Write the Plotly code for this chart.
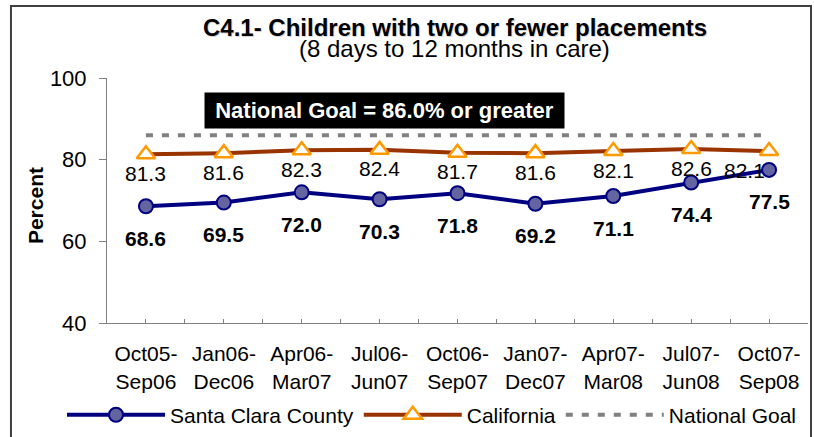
import plotly.graph_objects as go

periods = ["Oct05-<br>Sep06", "Jan06-<br>Dec06", "Apr06-<br>Mar07", "Jul06-<br>Jun07",
           "Oct06-<br>Sep07", "Jan07-<br>Dec07", "Apr07-<br>Mar08", "Jul07-<br>Jun08",
           "Oct07-<br>Sep08"]
santa_clara = [68.6, 69.5, 72.0, 70.3, 71.8, 69.2, 71.1, 74.4, 77.5]
california = [81.3, 81.6, 82.3, 82.4, 81.7, 81.6, 82.1, 82.6, 82.1]
national_goal = [86.0, 86.0, 86.0, 86.0, 86.0, 86.0, 86.0, 86.0, 86.0]
y_ticks = [40, 60, 80, 100]

idx = list(range(len(periods)))
FONT = "Liberation Sans, Arial, sans-serif"

fig = go.Figure()
fig.add_trace(go.Scatter(
    x=idx, y=santa_clara, name="Santa Clara County", mode="lines+markers",
    line=dict(color="#000080", width=4),
    marker=dict(symbol="circle", size=14, color="#6465A0",
                line=dict(color="#000080", width=2)),
))
fig.add_trace(go.Scatter(
    x=idx, y=california, name="California", mode="lines+markers",
    line=dict(color="#993300", width=4),
    marker=dict(symbol="triangle-up", size=16, color="white",
                line=dict(color="#FF9900", width=2.5)),
))
fig.add_trace(go.Scatter(
    x=idx, y=national_goal, name="National Goal", mode="lines",
    line=dict(color="#808080", width=4, dash="7px,9px"),
))

annotations = []
n = len(periods)
for i, v in zip(idx, california):
    annotations.append(dict(
        x=i, y=v, xref="x", yref="y", text=f"{v:.1f}", showarrow=False,
        yanchor="middle", xanchor="center", yshift=-19,
        xshift=(-25 if i == n - 1 else 0),
        font=dict(family=FONT, size=21, color="black")))
for i, v in zip(idx, santa_clara):
    annotations.append(dict(
        x=i, y=v, xref="x", yref="y", text=f"<b>{v:.1f}</b>", showarrow=False,
        yanchor="middle", xanchor="center", yshift=-32,
        font=dict(family=FONT, size=21, color="black")))

# Titles
annotations.append(dict(
    x=0.4964, y=1.208, xref="paper", yref="paper", yanchor="middle",
    text="<b>C4.1- Children with two or fewer placements</b>", showarrow=False,
    font=dict(family=FONT, size=24, color="black", shadow="1px 1px 1px rgba(0,0,0,0.18)")))
annotations.append(dict(
    x=0.4964, y=1.122, xref="paper", yref="paper", yanchor="middle",
    text="(8 days to 12 months in care)", showarrow=False,
    font=dict(family=FONT, size=24, color="black")))
# National goal label
annotations.append(dict(
    x=0.396, y=0.869, xref="paper", yref="paper", yanchor="middle", xanchor="center",
    text="<b>National Goal = 86.0% or greater</b>", showarrow=False,
    bgcolor="black", borderpad=5, width=349,
    font=dict(family=FONT, size=22, color="white")))
# Y axis title
annotations.append(dict(
    x=-0.101, y=0.478, xref="paper", yref="paper", xanchor="center", yanchor="middle",
    text="<b>Percent</b>", textangle=-90, showarrow=False,
    font=dict(family=FONT, size=21, color="black")))

fig.update_layout(
    width=814, height=437,
    margin=dict(l=107, r=6, t=78, b=114, autoexpand=False),
    paper_bgcolor="white", plot_bgcolor="white",
    font=dict(family=FONT, size=21, color="black"),
    showlegend=True,
    legend=dict(orientation="h", x=-0.0642, xanchor="left", y=-0.376, yanchor="middle",
                font=dict(family=FONT, size=21, color="black"),
                bgcolor="rgba(0,0,0,0)", itemwidth=98),
    annotations=annotations,
    shapes=[dict(type="rect", xref="paper", yref="paper",
                 x0=-0.137, x1=1.0043, y0=-0.5, y1=1.294,
                 line=dict(color="#404040", width=2), fillcolor="rgba(0,0,0,0)",
                 layer="below")],
)
fig.update_xaxes(
    range=[-0.5, n - 0.5], tickmode="array", tickvals=idx, ticktext=periods,
    ticks="inside", ticklen=4, tickcolor="#808080", tickwidth=1,
    showline=True, linecolor="#808080", linewidth=1, showgrid=False, zeroline=False,
    tickfont=dict(family=FONT, size=21, color="black"), ticklabelstandoff=12,
    minor=dict(tickmode="linear", tick0=-0.5, dtick=1, ticks="inside", ticklen=4,
               tickcolor="#808080", showgrid=False),
)
fig.update_yaxes(
    range=[40, 100], tickmode="array", tickvals=y_ticks,
    ticks="outside", ticklen=7, tickcolor="#808080", tickwidth=1,
    showline=True, linecolor="#808080", linewidth=1, showgrid=False, zeroline=False,
    tickfont=dict(family=FONT, size=22, color="black"), ticklabelstandoff=8,
)

fig.write_html("out.html", config={"displayModeBar": False},
               post_script="document.body.style.margin='0';")
